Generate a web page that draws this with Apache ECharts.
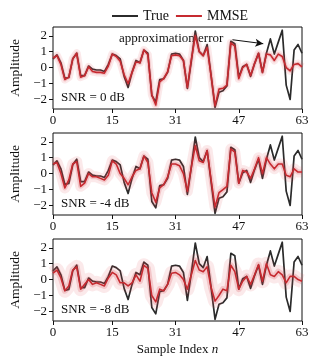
<!DOCTYPE html>
<html>
<head>
<meta charset="utf-8">
<script src="https://cdn.jsdelivr.net/npm/echarts@6/dist/echarts.min.js"></script>
<style>html,body{margin:0;padding:0;background:#fff}#c{width:314px;height:364px}</style>
</head>
<body>
<div id="c"></div>
<script>
const sampleIndex = Array.from({length: 64}, (_, i) => i);
const xTicks = [0, 15, 31, 47, 63];
const yTicks = [-2, -1, 0, 1, 2];
const snrLabels = ['SNR = 0 dB', 'SNR = -4 dB', 'SNR = -8 dB'];

const trueSignal = [
  0.55, 0.8, 0.3, -0.68, -0.62, 0.55, 0.9, -0.5, -0.5, 0.1,
  -0.1, -0.15, -0.15, -0.25, 0.2, 0.85, 0.75, 0.55, -0.55, -1.25,
  -0.3, 0.45, 0.3, 1.1, 0.9, -1.75, -2.15, -0.75, -0.7, -0.3,
  0.85, 0.9, 0.85, 0.45, -1.3, 0.4, 2.3, 1.0, 0.75, 1.45,
  -0.5, -2.5, -1.55, -1.45, -1.15, 1.65, 1.5, -0.6, 0.05, 0.2,
  -0.55, 0.25, 0.9, -0.3, 0.9, 1.8, 0.85, 1.6, 2.35, -1.1,
  -2.0, 1.1, 1.45, 0.9
];
const mmseSnr0 = [
  0.6, 0.75, 0.2, -0.75, -0.6, 0.55, 0.9, -0.6, -0.5, 0.05,
  -0.25, -0.3, -0.3, -0.35, 0.1, 0.85, 0.7, 0.4, -0.45, -1.0,
  -0.3, 0.35, 0.3, 1.1, 0.8, -1.7, -2.35, -0.9, -0.7, -0.25,
  0.75, 0.8, 0.75, 0.45, -1.25, 0.5, 2.0, 1.0, 0.75, 1.25,
  -0.5, -2.4, -1.35, -1.3, -1.1, 1.55, 1.35, -0.7, 0.0, 0.2,
  -0.5, 0.25, 0.9, -0.3, 0.85, 0.8, 0.45, 0.85, 0.7, 0.0,
  -0.2, 0.2, 0.25, 0.05
];
const mmseSnrM4 = [
  0.6, 0.7, 0.0, -0.9, -0.4, 0.6, 0.75, -0.8, -0.6, 0.0,
  -0.2, -0.2, -0.3, -0.4, -0.1, 0.8, 0.6, 0.0, -0.3, -0.7,
  -0.2, 0.2, 0.3, 1.1, 0.7, -1.2, -1.8, -0.9, -0.7, -0.2,
  0.6, 0.6, 0.5, 0.0, -1.1, 0.4, 1.75, 0.8, 0.7, 1.45,
  -0.4, -2.1, -1.2, -1.0, -0.8, 1.55, 1.35, -0.6, 0.2, 0.1,
  -0.3, 0.3, 1.0, 0.0, 1.0, 0.6, 0.3, 0.6, 0.6, -0.1,
  -0.2, 0.3, 0.1, 0.1
];
const mmseSnrM8 = [
  0.4, 0.6, 0.1, -0.7, -0.4, 0.6, 0.8, -0.6, -0.3, 0.0,
  -0.3, -0.2, -0.3, -0.4, 0.1, 0.45, 0.3, -0.2, -0.2, -0.4,
  -0.2, 0.3, -0.1, 0.9, 0.7, -1.0, -1.4, -0.6, -0.7, -0.3,
  0.4, 0.45, 0.3, 0.0, -0.6, 0.3, 1.2, 0.6, 0.5, 0.8,
  -0.5, -1.35, -1.0, -0.6, -0.7, 0.9, 0.5, -0.6, -0.1, 0.2,
  -0.3, 0.3, 0.95, -0.1, 1.0, 0.3, 0.2, 0.5, 0.3, -0.2,
  0.2, 0.2, 0.0, -0.1
];
const mmseSets = [mmseSnr0, mmseSnrM4, mmseSnrM8];
const bandWidths = [[8, 4], [11, 5], [14, 6]];

const FONT = 'Liberation Serif';
const gridTops = [27, 133, 239];
const gridH = 82;
const pair = arr => arr.map((v, i) => [sampleIndex[i], v]);
const minus = v => String(v).replace('-', '\u2212');

const grids = [], xAxes = [], yAxes = [], series = [], graphics = [];
gridTops.forEach((top, g) => {
  grids.push({left: 50, right: 12, top: top, height: gridH, show: true,
    borderColor: '#111', borderWidth: 1, backgroundColor: 'transparent'});
  xAxes.push({type: 'value', gridIndex: g, min: 0, max: 63, position: 'bottom',
    axisLine: {show: false, onZero: false}, splitLine: {show: false},
    axisTick: {show: true, length: 4, customValues: xTicks, lineStyle: {color: '#111'}},
    axisLabel: {customValues: xTicks, margin: 5, fontFamily: FONT, fontSize: 13, color: '#111'},
    name: g === 2 ? 'Sample Index {i|n}' : '', nameLocation: 'middle', nameGap: 22,
    nameTextStyle: {fontFamily: FONT, fontSize: 13, color: '#111',
      rich: {i: {fontFamily: FONT, fontStyle: 'italic', fontSize: 13, color: '#111'}}}
  });
  yAxes.push({type: 'value', gridIndex: g, min: -2.6, max: 2.55,
    axisLine: {show: false, onZero: false}, splitLine: {show: false},
    axisTick: {show: true, length: 4, customValues: yTicks, lineStyle: {color: '#111'}},
    axisLabel: {customValues: yTicks, margin: 6, fontFamily: FONT, fontSize: 13, color: '#111',
      formatter: v => minus(v)},
    name: 'Amplitude', nameLocation: 'middle', nameGap: 31, nameRotate: 90,
    nameTextStyle: {fontFamily: FONT, fontSize: 13.5, color: '#111'}
  });
  series.push({
    name: 'True', type: 'line', xAxisIndex: g, yAxisIndex: g, data: pair(trueSignal),
    symbol: 'none', lineStyle: {color: '#2b2b2b', width: 1.7, join: 'round'}, itemStyle: {color: '#2b2b2b'},
    markLine: g === 0 ? {
      silent: true, symbol: ['none', 'arrow'], symbolSize: [6, 8],
      lineStyle: {color: '#111', width: 1, type: 'solid'}, label: {show: false},
      data: [[{coord: [45.4, 1.75]}, {coord: [53.2, 1.5]}]]
    } : undefined
  });
  series.push({
    name: 'band-a-' + g, type: 'line', xAxisIndex: g, yAxisIndex: g, data: pair(mmseSets[g]),
    symbol: 'none', lineStyle: {color: 'rgba(220,70,80,0.12)', width: bandWidths[g][0], join: 'round'}
  });
  series.push({
    name: 'band-b-' + g, type: 'line', xAxisIndex: g, yAxisIndex: g, data: pair(mmseSets[g]),
    symbol: 'none', lineStyle: {color: 'rgba(215,60,70,0.2)', width: bandWidths[g][1], join: 'round'}
  });
  series.push({
    name: 'MMSE', type: 'line', xAxisIndex: g, yAxisIndex: g, data: pair(mmseSets[g]),
    symbol: 'none', lineStyle: {color: '#c62a30', width: 1.6, join: 'round'}, itemStyle: {color: '#c62a30'}
  });
});

graphics.push({type: 'text', left: 61, top: 91, style: {text: snrLabels[0], font: '13px "' + FONT + '"', fill: '#111'}});
graphics.push({type: 'text', left: 61, top: 197, style: {text: snrLabels[1], font: '13px "' + FONT + '"', fill: '#111'}});
graphics.push({type: 'text', left: 61, top: 303, style: {text: snrLabels[2], font: '13px "' + FONT + '"', fill: '#111'}});
graphics.push({type: 'text', left: 119, top: 32, style: {text: 'approximation error', font: '13px "' + FONT + '"', fill: '#111'}});

const chart = echarts.init(document.getElementById('c'), null, {renderer: 'canvas'});
chart.setOption({
  animation: false,
  backgroundColor: '#fff',
  legend: {data: [{name: 'True', icon: 'rect'}, {name: 'MMSE', icon: 'rect'}], top: 4, left: 107,
    itemWidth: 26, itemHeight: 2, itemGap: 7,
    textStyle: {fontFamily: FONT, fontSize: 14, color: '#111'}},
  grid: grids, xAxis: xAxes, yAxis: yAxes, series: series, graphic: graphics
});
</script>
</body>
</html>
